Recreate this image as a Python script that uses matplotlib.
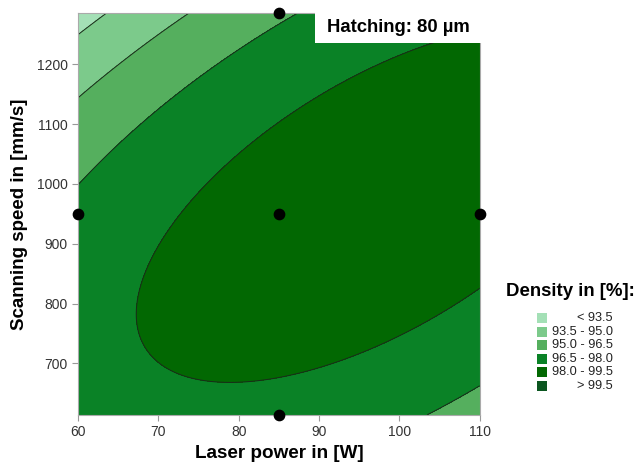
import numpy as np
import matplotlib
matplotlib.use("Agg")
import matplotlib.pyplot as plt
from matplotlib.patches import Rectangle

plt.rcParams['font.family'] = ['Liberation Sans', 'DejaVu Sans']

# ---------- DATA --------------
# response surface for density, coded factors u = (P - 85)/25, v = (S - 950)/336
coef_const = 98.650
coef_p = 0.8691
coef_s = -0.6254
coef_pp = -0.9286
coef_ss = -1.7488
coef_ps = 1.5754

power_range = [60, 110]
speed_range = [614, 1286]

# design points (laser power, scanning speed)
design_power = [60, 85, 110, 85, 85]
design_speed = [950, 950, 950, 614, 1286]

levels = [90.0, 93.5, 95.0, 96.5, 98.0, 99.5, 101.0]
level_labels = ["< 93.5", "93.5 - 95.0", "95.0 - 96.5", "96.5 - 98.0", "98.0 - 99.5", "> 99.5"]
level_colors = ["#a4e0b6", "#7cca8b", "#55af5e", "#0a8226", "#026802", "#0b5620"]
# ------------------------------

P, S = np.meshgrid(np.linspace(power_range[0], power_range[1], 300),
                   np.linspace(speed_range[0], speed_range[1], 300))
u = (P - 85) / 25
v = (S - 950) / 336
density = (coef_const + coef_p * u + coef_s * v + coef_pp * u ** 2
           + coef_ss * v ** 2 + coef_ps * u * v)

fig = plt.figure(figsize=(6.44, 4.62), dpi=100)
ax = fig.add_axes([0.121, 0.102, 0.624, 0.870])

ax.contourf(P, S, density, levels=levels, colors=level_colors)
ax.contour(P, S, density, levels=levels[1:-1], colors="#1a2a1a", linewidths=0.7)
ax.scatter(design_power, design_speed, s=55, color="black", zorder=5, clip_on=False)

ax.set_xlim(power_range)
ax.set_ylim(speed_range)
ax.set_xticks([60, 70, 80, 90, 100, 110])
ax.set_yticks([700, 800, 900, 1000, 1100, 1200])
ax.tick_params(labelsize=10, labelcolor="#333333", color="#999999", length=4, width=0.8)
for sp in ax.spines.values():
    sp.set_color("#aaaaaa")
    sp.set_linewidth(0.8)

ax.set_xlabel("Laser power in [W]", fontsize=13.6, fontweight="bold", labelpad=4)
ax.set_ylabel("Scanning speed in [mm/s]", fontsize=13.5, fontweight="bold", labelpad=6)

# label box in the upper right corner of the plot
ax.add_patch(Rectangle((0.589, 0.925), 0.42, 0.08, transform=ax.transAxes,
                       facecolor="white", edgecolor="none", zorder=6, clip_on=False))
fig.text(0.618, 0.941, "Hatching: 80 µm", fontsize=13.3, fontweight="bold",
         ha="center", va="center", zorder=7)

# legend
fig.text(0.786, 0.368, "Density in [%]:", fontsize=13.4, fontweight="bold",
         ha="left", va="center")
for i, (lab, col) in enumerate(zip(level_labels, level_colors)):
    yc = 1 - (318 + i * 13.6) / 462
    fig.patches.append(Rectangle((537 / 644, yc - 5 / 462), 10 / 644, 10 / 462,
                                 transform=fig.transFigure, facecolor=col,
                                 edgecolor="none"))
    fig.text(613 / 644, yc, lab, fontsize=9.2, color="#222222", ha="right", va="center")

fig.savefig("out.png", dpi=100)
